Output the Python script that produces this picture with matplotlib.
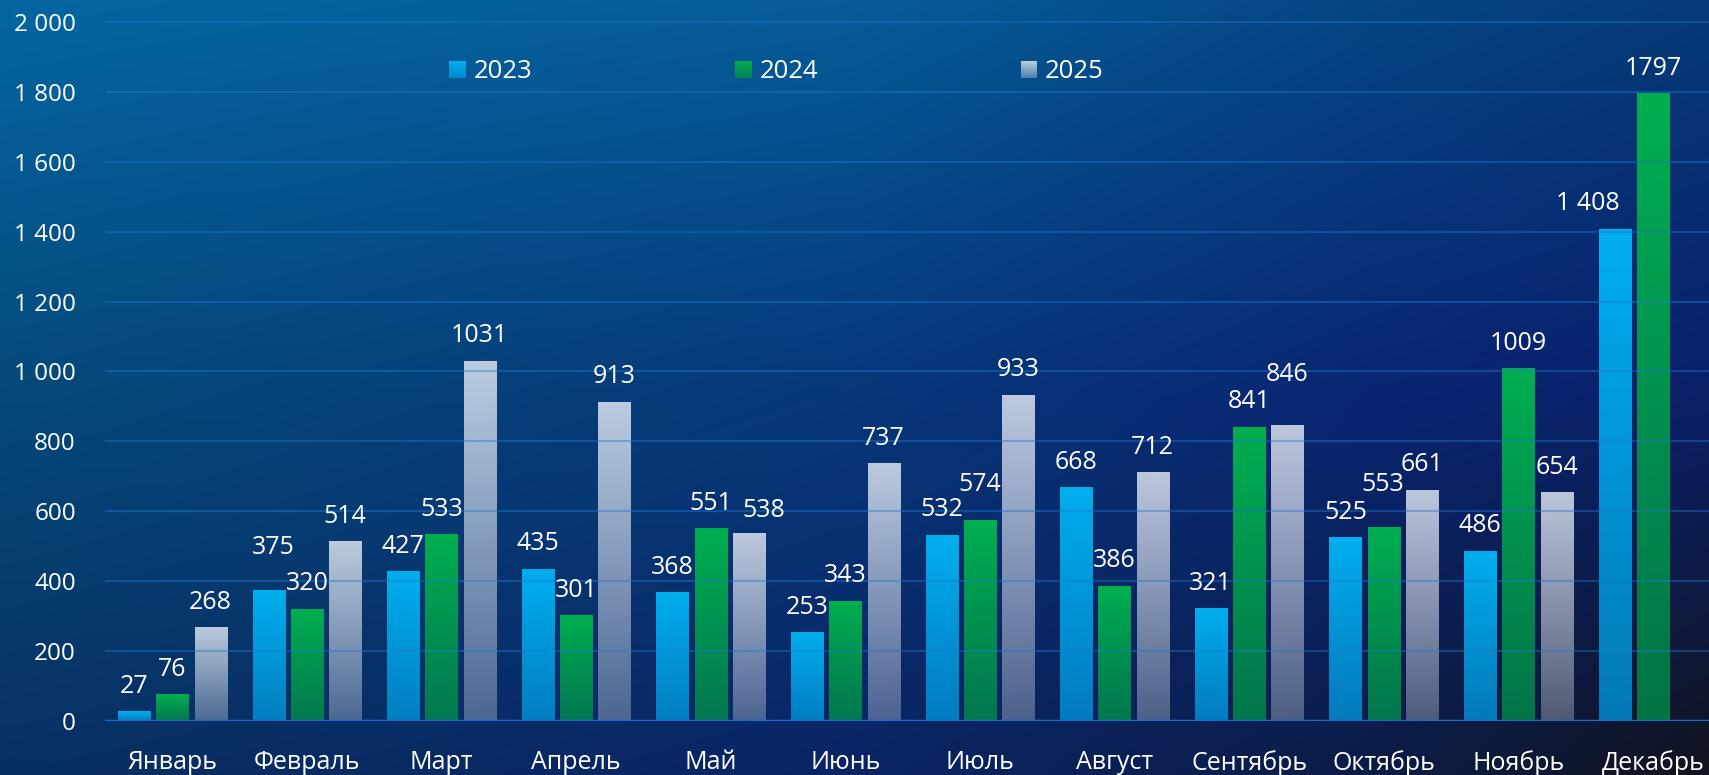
import numpy as np
import matplotlib
matplotlib.use("Agg")
import matplotlib.pyplot as plt
from matplotlib.patches import Rectangle, Patch
from matplotlib.legend_handler import HandlerBase
from matplotlib.ticker import FuncFormatter

# ---------------- data ----------------
months = ["Январь", "Февраль", "Март", "Апрель", "Май", "Июнь",
          "Июль", "Август", "Сентябрь", "Октябрь", "Ноябрь", "Декабрь"]
years = ["2023", "2024", "2025"]
v2023 = [27, 375, 427, 435, 368, 253, 532, 668, 321, 525, 486, 1408]
v2024 = [76, 320, 533, 301, 551, 343, 574, 386, 841, 553, 1009, 1797]
v2025 = [268, 514, 1031, 913, 538, 737, 933, 712, 846, 661, 654, np.nan]
y_ticks = [0, 200, 400, 600, 800, 1000, 1200, 1400, 1600, 1800, 2000]
label_thousands_sep = [" ", "", ""]   # how each series prints its values

# ---------------- style ----------------
plt.rcParams['font.family'] = ['Open Sans', 'DejaVu Sans']
W, H, DPI = 1709, 775, 100
FS_LABEL = 18
FS_XTICK = 18
FS_YTICK = 17.5
FS_LEG = 18.5

bar_top = [np.array([0, 176, 240, 255]) / 255,
           np.array([0, 176, 80, 255]) / 255,
           np.array([235, 240, 250, 0.80 * 255]) / 255]
bar_bot = [np.array([0, 150, 220, 0.78 * 255]) / 255,
           np.array([0, 140, 75, 0.80 * 255]) / 255,
           np.array([235, 240, 250, 0.30 * 255]) / 255]

# label nudges (pixels): (series, month) -> (dx, dy)
nudge = {(0, 1): (5, 17), (2, 4): (15, -3), (1, 6): (0, 11),
         (2, 8): (0, 26), (1, 9): (-1, 18), (0, 11): (-27, 0)}

fig = plt.figure(figsize=(W / DPI, H / DPI), dpi=DPI)

# ---------------- background gradient ----------------
xs_stops = [0.0, 0.5, 0.8, 1.0]
rows = {
    0.0: [(4, 102, 162), (5, 92, 152), (5, 70, 130), (5, 58, 120)],
    0.5: [(5, 74, 122), (7, 56, 122), (9, 38, 115), (10, 32, 105)],
    1.0: [(8, 48, 98), (10, 36, 100), (12, 28, 70), (17, 20, 30)],
}
gw, gh = 400, 200
gx = np.linspace(0, 1, gw)
gy = np.linspace(0, 1, gh)
row_keys = sorted(rows)
row_cols = []
for k in row_keys:
    arr = np.array(rows[k], dtype=float)
    row_cols.append(np.stack([np.interp(gx, xs_stops, arr[:, c]) for c in range(3)], axis=-1))
row_cols = np.array(row_cols)  # (3, gw, 3)
img = np.empty((gh, gw, 3))
for c in range(3):
    for j in range(gw):
        img[:, j, c] = np.interp(gy, row_keys, row_cols[:, j, c])
img /= 255.0
bg = fig.add_axes([0, 0, 1, 1], zorder=0)
bg.imshow(img, extent=[0, 1, 0, 1], aspect='auto', origin='upper', interpolation='bilinear')
bg.set_axis_off()

# ---------------- main axes ----------------
left_px, zero_px = 105, 720.6
px_per_cat = 134.6
px_per_unit = (720.6 - 22.3) / 2000
ax = fig.add_axes([left_px / W, (H - zero_px) / H, 1 - left_px / W, zero_px / H], zorder=1)
ax.patch.set_alpha(0)

x = np.arange(len(months))
offsets = [-0.284, 0.0, 0.284]
bw = 0.238
series = [v2023, v2024, v2025]

grad = np.linspace(0, 1, 256)[:, None]
for i, vals in enumerate(series):
    bars = ax.bar(x + offsets[i], vals, bw, color='none', edgecolor='none', zorder=2)
    rgba = (bar_top[i][None, :] * (1 - grad) + bar_bot[i][None, :] * grad).reshape(256, 1, 4)
    for j, rect in enumerate(bars):
        h = rect.get_height()
        if not np.isfinite(h) or h <= 0:
            continue
        x0 = rect.get_x()
        x1 = x0 + rect.get_width()
        ax.imshow(rgba, extent=[x0, x1, 0, h], origin='upper', aspect='auto',
                  interpolation='bilinear', zorder=2)
        sep = label_thousands_sep[i]
        txt = f"{int(h):,}".replace(",", sep)
        dx, dy = nudge.get((i, j), (0, 0))
        ax.annotate(txt, xy=(x0 + rect.get_width() / 2, h), xytext=(dx, 18.5 + dy),
                    textcoords='offset pixels', ha='center', va='baseline',
                    color='white', fontsize=FS_LABEL, zorder=5, annotation_clip=False)

ax.set_xlim(-0.5, -0.5 + (W - left_px) / px_per_cat)
ax.set_ylim(0, zero_px / px_per_unit)

ax.set_yticks(y_ticks)
ax.yaxis.set_major_formatter(FuncFormatter(lambda v, _: f"{int(v):,}".replace(",", " ")))
ax.set_xticks(x)
ax.set_xticklabels(months)
ax.set_axisbelow(False)
ax.yaxis.grid(True, color=(30 / 255, 120 / 255, 205 / 255), alpha=0.42, lw=1.5)
ax.axhline(0, color='#1a6ec8', lw=2.5, zorder=3)
for s in ax.spines.values():
    s.set_visible(False)
ax.tick_params(axis='both', length=0, colors='white')
ax.tick_params(axis='x', pad=21, labelsize=FS_XTICK)
ax.tick_params(axis='y', pad=21, labelsize=FS_YTICK)


# ---------------- legend with gradient squares ----------------
class GradHandler(HandlerBase):
    def __init__(self, top, bot, n=16):
        super().__init__()
        self.top, self.bot, self.n = top, bot, n

    def create_artists(self, legend, orig_handle, xdescent, ydescent,
                       width, height, fontsize, trans):
        arts = []
        for k in range(self.n):
            f = (k + 0.5) / self.n
            c = self.top * (1 - f) + self.bot * f
            y0 = -ydescent + height * (1 - (k + 1) / self.n)
            arts.append(Rectangle((-xdescent, y0), width, height / self.n * 1.05,
                                  facecolor=c, edgecolor='none', transform=trans))
        return arts


handles = [Patch() for _ in years]
hmap = {h: GradHandler(bar_top[i], bar_bot[i]) for i, h in enumerate(handles)}
fig.legend(handles, years, handler_map=hmap, loc='center left',
           bbox_to_anchor=(449 / W, 1 - 72 / H), ncol=3, frameon=False,
           fontsize=FS_LEG, labelcolor='white', handlelength=0.66, handleheight=0.66,
           handletextpad=0.3, columnspacing=7.88, borderpad=0, borderaxespad=0)

fig.savefig("out.png", dpi=DPI)
